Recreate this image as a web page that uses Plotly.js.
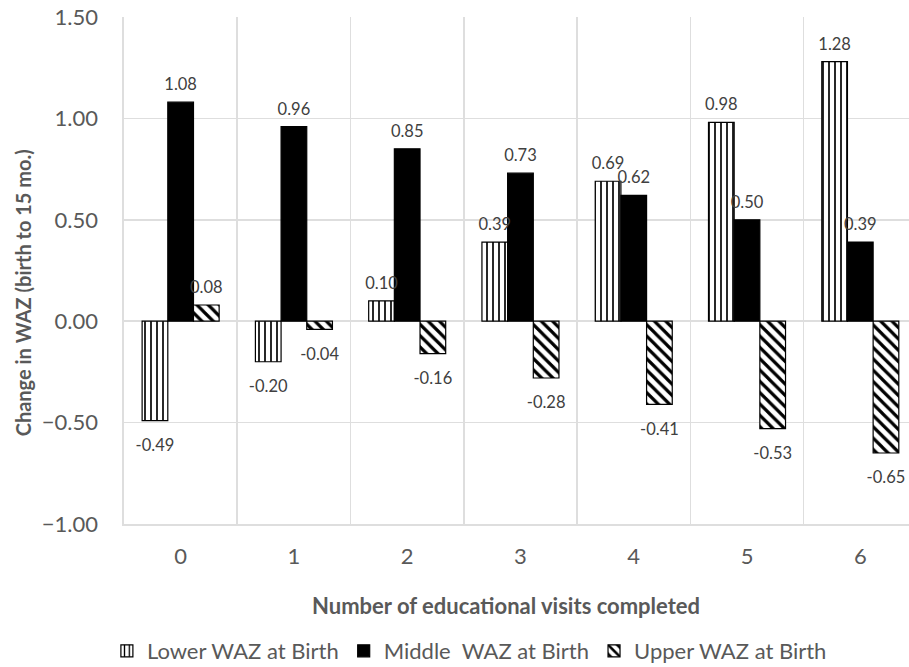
<!DOCTYPE html>
<html>
<head>
<meta charset="utf-8">
<script src="https://cdn.plot.ly/plotly-3.0.1.min.js"></script>
<style>html,body{margin:0;padding:0;background:#fff;}#chart{width:909px;height:667px;}</style>
</head>
<body>
<div id="chart"></div>
<script>
// ---- data ----
var categories = ['0', '1', '2', '3', '4', '5', '6'];
var lowerWAZ  = [-0.49, -0.20, 0.10, 0.39, 0.69, 0.98, 1.28];
var middleWAZ = [1.08, 0.96, 0.85, 0.73, 0.62, 0.50, 0.39];
var upperWAZ  = [0.08, -0.04, -0.16, -0.28, -0.41, -0.53, -0.65];
var seriesNames = ['Lower WAZ at Birth', 'Middle  WAZ at Birth', 'Upper WAZ at Birth'];
var yTickVals = [-1.0, -0.5, 0.0, 0.5, 1.0, 1.5];
var xTitle = 'Number of educational visits completed';
var yTitle = 'Change in WAZ (birth to 15 mo.)';

var FONT = 'Lato, "Open Sans", Arial, sans-serif';
var GRID = '#dedede';
var series = [lowerWAZ, middleWAZ, upperWAZ];
var patterns = [
  {shape: '|', fgcolor: '#000', bgcolor: '#fff', size: 6, solidity: 0.28},
  {shape: '', fgcolor: '#000', bgcolor: '#000'},
  {shape: '\\', fgcolor: '#000', bgcolor: '#fff', size: 8, solidity: 0.4}
];
var fills = ['#fff', '#000', '#fff'];

var traces = [];
series.forEach(function (vals, i) {
  traces.push({
    type: 'bar', x: categories, y: vals, name: seriesNames[i],
    offsetgroup: 'g' + i, alignmentgroup: 'a',
    marker: {color: fills[i], pattern: patterns[i], line: {color: '#000', width: 1.2}},
    hoverinfo: 'skip'
  });
});
series.forEach(function (vals, i) {
  traces.push({
    type: 'scatter', mode: 'markers+text', x: categories, y: vals,
    showlegend: false, offsetgroup: 'g' + i, alignmentgroup: 'b',
    marker: {size: vals.map(function (v) { return v >= 0 ? 11 : 27; }), opacity: 0},
    text: vals.map(function (v) { return v.toFixed(2); }),
    textposition: vals.map(function (v) { return v >= 0 ? 'top center' : 'bottom center'; }),
    textfont: {family: FONT, size: 16.5, color: '#404040'},
    cliponaxis: false, hoverinfo: 'skip'
  });
});

var layout = {
  width: 909, height: 667,
  margin: {l: 124, r: 0, t: 17, b: 143},
  paper_bgcolor: '#fff', plot_bgcolor: '#fff',
  barmode: 'group', bargap: 0.32, bargroupgap: 0,
  scattermode: 'group', scattergap: 0.32,
  font: {family: FONT, color: '#595959'},
  xaxis: {
    type: 'category', categoryorder: 'array', categoryarray: categories,
    range: [-0.5, 6.43], tickson: 'boundaries', ticks: '',
    showgrid: true, gridcolor: GRID, gridwidth: 1.6,
    showline: true, linecolor: GRID, linewidth: 1.6,
    tickfont: {family: FONT, size: 22, color: '#595959'},
    ticklabelstandoff: 12, automargin: false, fixedrange: true
  },
  yaxis: {
    range: [-1, 1.5], tickvals: yTickVals, tickformat: '.2f',
    showgrid: true, gridcolor: GRID, gridwidth: 1.6, zeroline: false,
    showline: true, linecolor: GRID, linewidth: 1.6, ticks: '',
    tickfont: {family: FONT, size: 22, color: '#595959'},
    ticklabelstandoff: 20, automargin: false, fixedrange: true
  },
  showlegend: true,
  legend: {
    orientation: 'h', x: 0.44, xanchor: 'center', yref: 'container', y: 0.024, yanchor: 'middle',
    font: {family: FONT, size: 22, color: '#595959'}, traceorder: 'normal'
  },
  annotations: [
    {text: '<b>' + xTitle + '</b>', xref: 'paper', yref: 'paper', x: 0.487, y: -0.16,
     xanchor: 'center', yanchor: 'middle', showarrow: false,
     font: {family: FONT, size: 22, color: '#595959'}},
    {text: '<b>' + yTitle + '</b>', xref: 'paper', yref: 'paper', x: 0, xshift: -101, y: 0.455,
     xanchor: 'center', yanchor: 'middle', textangle: -90, showarrow: false,
     font: {family: FONT, size: 20, color: '#595959'}}
  ]
};

Plotly.newPlot('chart', traces, layout, {displayModeBar: false, staticPlot: true});
</script>
</body>
</html>
